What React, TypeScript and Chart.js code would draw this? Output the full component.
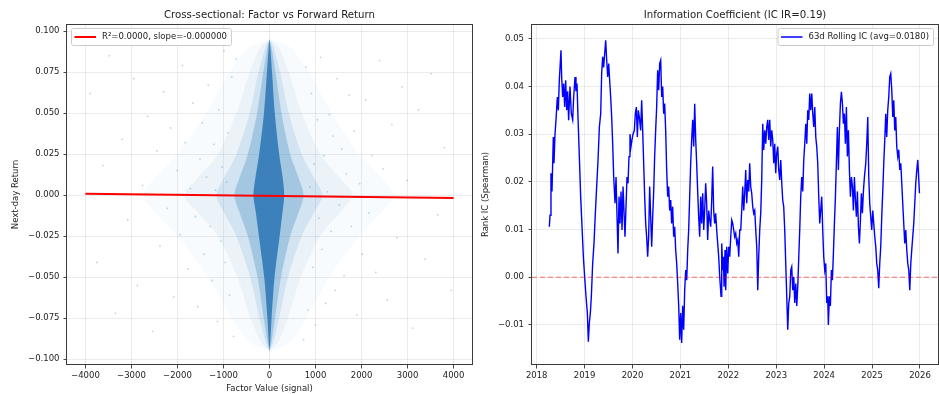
import React, { useEffect, useRef } from "react";
import { Chart, registerables } from "chart.js";

Chart.register(...registerables);

const FONT = "'DejaVu Sans', 'Liberation Sans', sans-serif";
const TXT = "#222222";

// ---------------- Left panel: cross-sectional scatter ----------------
const leftTitle = "Cross-sectional: Factor vs Forward Return";
const leftXLabel = "Factor Value (signal)";
const leftYLabel = "Next-day Return";
const leftLegend = "R\u00b2=0.0000, slope=-0.000000";
const leftXTicks = [-4000, -3000, -2000, -1000, 0, 1000, 2000, 3000, 4000];
const leftYTicks = [-0.1, -0.075, -0.05, -0.025, 0, 0.025, 0.05, 0.075, 0.1];

// regression line end points
const regX = [-4000, 4000];
const regY = [0.0008, -0.0018];

// density envelope of the point cloud (half-widths in factor units), read at these return levels
const cloudLevels = [0.095, 0.09, 0.075, 0.05, 0.025, 0.01, 0, -0.01, -0.025, -0.05, -0.075, -0.09, -0.095];
const coreRight = [0, 18, 55, 115, 210, 290, 320, 285, 220, 110, 45, 15, 0];
const coreLeft = [0, -18, -55, -120, -225, -310, -350, -300, -230, -115, -45, -15, 0];
const denseRight = [0, 45, 130, 260, 450, 640, 740, 640, 450, 250, 120, 40, 0];
const denseLeft = [0, -45, -135, -270, -470, -660, -760, -660, -470, -260, -125, -40, 0];
const haloRight = [0, 90, 230, 420, 700, 980, 1150, 980, 700, 400, 210, 80, 0];
const haloLeft = [0, -90, -240, -430, -720, -1000, -1150, -1000, -720, -420, -220, -80, 0];
const faintRight = [0, 200, 420, 700, 1100, 1550, 1800, 1550, 1100, 680, 400, 180, 0];
const faintLeft = [0, -200, -430, -720, -1120, -1580, -1850, -1580, -1120, -700, -410, -180, 0];
const sparseRight = [0, 450, 850, 1350, 1950, 2450, 2700, 2450, 1950, 1300, 800, 420, 0];
const sparseLeft = [0, -450, -860, -1380, -2000, -2500, -2750, -2500, -2000, -1330, -820, -420, 0];

// sparse outlying points
const outlierPoints: [number, number][] = [
  [-3900, 0.062], [-3750, -0.041], [-3620, 0.018], [-3480, 0.085], [-3350, -0.072], [-3200, 0.034],
  [-3080, -0.015], [-2950, 0.071], [-2870, -0.055], [-2760, 0.006], [-2650, 0.048], [-2540, -0.083],
  [-2450, 0.027], [-2380, -0.031], [-2300, 0.063], [-2220, -0.008], [-2150, 0.041], [-2080, -0.062],
  [-2010, 0.015], [-1950, -0.024], [-1890, 0.079], [-1830, 0.032], [-1770, -0.045], [-1720, 0.004],
  [-1660, 0.056], [-1610, -0.013], [-1560, -0.068], [-1510, 0.022], [-1460, 0.044], [-1420, -0.036],
  [-1370, 0.011], [-1330, 0.067], [-1290, -0.019], [-1250, -0.052], [-1210, 0.031], [-1170, 0.003],
  [-1130, -0.077], [-1100, 0.052], [-1060, -0.028], [-1030, 0.017], [-990, 0.088], [-960, -0.041],
  [-930, 0.008], [-900, 0.038], [-870, -0.061], [-820, 0.072], [-780, -0.086], [-720, 0.083],
  [3950, -0.058], [3800, 0.029], [3660, -0.012], [3510, 0.074], [3380, -0.039], [3240, 0.052],
  [3110, -0.081], [2990, 0.009], [2880, 0.066], [2770, -0.026], [2660, 0.043], [2560, -0.064],
  [2470, 0.016], [2390, 0.082], [2310, -0.047], [2230, 0.024], [2160, -0.011], [2090, 0.058],
  [2020, -0.036], [1960, 0.007], [1900, -0.073], [1840, 0.039], [1780, -0.019], [1730, 0.061],
  [1670, 0.013], [1620, -0.049], [1570, 0.028], [1520, -0.006], [1470, 0.071], [1430, -0.058],
  [1380, 0.036], [1340, -0.022], [1300, 0.049], [1260, 0.002], [1220, -0.066], [1180, 0.024],
  [1140, -0.033], [1110, 0.084], [1070, -0.014], [1040, 0.046], [1000, -0.079], [970, 0.019],
  [940, -0.044], [910, 0.062], [880, 0.005], [830, -0.07], [790, 0.078], [740, -0.088],
];

// ---------------- Right panel: rolling IC ----------------
const rightTitle = "Information Coefficient (IC IR=0.19)";
const rightYLabel = "Rank IC (Spearman)";
const rightLegend = "63d Rolling IC (avg=0.0180)";
const rightXTicks = [2018, 2019, 2020, 2021, 2022, 2023, 2024, 2025, 2026];
const rightYTicks = [-0.01, 0, 0.01, 0.02, 0.03, 0.04, 0.05];

const icDates = [
  2018.264, 2018.278, 2018.298, 2018.319, 2018.347, 2018.361, 2018.382, 2018.403, 2018.431, 2018.452,
  2018.472, 2018.507, 2018.521, 2018.542, 2018.563, 2018.584, 2018.605, 2018.626, 2018.646, 2018.667,
  2018.695, 2018.723, 2018.751, 2018.772, 2018.800, 2018.820, 2018.841, 2018.862, 2018.890, 2018.918,
  2018.946, 2018.974, 2019.001, 2019.029, 2019.057, 2019.078, 2019.099, 2019.120, 2019.141, 2019.168,
  2019.196, 2019.224, 2019.252, 2019.280, 2019.308, 2019.336, 2019.356, 2019.377, 2019.398, 2019.419,
  2019.440, 2019.461, 2019.482, 2019.503, 2019.523, 2019.544, 2019.565, 2019.586, 2019.607, 2019.635,
  2019.656, 2019.677, 2019.697, 2019.718, 2019.739, 2019.760, 2019.781, 2019.802, 2019.843, 2019.864,
  2019.885, 2019.906, 2019.927, 2019.947, 2019.968, 2019.989, 2020.010, 2020.038, 2020.059, 2020.080,
  2020.101, 2020.121, 2020.142, 2020.170, 2020.191, 2020.212, 2020.233, 2020.254, 2020.275, 2020.295,
  2020.316, 2020.337, 2020.358, 2020.379, 2020.400, 2020.421, 2020.442, 2020.462, 2020.483, 2020.504,
  2020.525, 2020.546, 2020.567, 2020.588, 2020.609, 2020.630, 2020.650, 2020.671, 2020.692, 2020.713,
  2020.734, 2020.755, 2020.776, 2020.797, 2020.817, 2020.838, 2020.859, 2020.880, 2020.901, 2020.922,
  2020.943, 2020.964, 2020.984, 2021.005, 2021.026, 2021.047, 2021.068, 2021.089, 2021.110, 2021.131,
  2021.152, 2021.172, 2021.193, 2021.214, 2021.235, 2021.256, 2021.277, 2021.298, 2021.319, 2021.339,
  2021.360, 2021.381, 2021.402, 2021.423, 2021.444, 2021.465, 2021.486, 2021.506, 2021.527, 2021.548,
  2021.569, 2021.590, 2021.611, 2021.632, 2021.653, 2021.673, 2021.694, 2021.715, 2021.736, 2021.757,
  2021.778, 2021.799, 2021.820, 2021.848, 2021.862, 2021.883, 2021.897, 2021.911, 2021.931, 2021.945,
  2021.966, 2021.987, 2022.008, 2022.029, 2022.050, 2022.071, 2022.091, 2022.112, 2022.133, 2022.154,
  2022.175, 2022.196, 2022.217, 2022.238, 2022.259, 2022.279, 2022.300, 2022.321, 2022.342, 2022.363,
  2022.384, 2022.405, 2022.426, 2022.446, 2022.467, 2022.488, 2022.509, 2022.530, 2022.551, 2022.572,
  2022.593, 2022.614, 2022.634, 2022.655, 2022.676, 2022.697, 2022.718, 2022.739, 2022.760, 2022.781,
  2022.801, 2022.822, 2022.843, 2022.864, 2022.885, 2022.906, 2022.927, 2022.948, 2022.968, 2022.989,
  2023.010, 2023.031, 2023.052, 2023.073, 2023.094, 2023.115, 2023.135, 2023.156, 2023.177, 2023.198,
  2023.219, 2023.240, 2023.261, 2023.282, 2023.303, 2023.323, 2023.344, 2023.365, 2023.386, 2023.407,
  2023.428, 2023.449, 2023.470, 2023.490, 2023.511, 2023.532, 2023.553, 2023.574, 2023.595, 2023.616,
  2023.637, 2023.657, 2023.678, 2023.699, 2023.720, 2023.741, 2023.762, 2023.783, 2023.804, 2023.825,
  2023.845, 2023.866, 2023.887, 2023.908, 2023.949, 2023.970, 2023.991, 2024.012, 2024.033, 2024.054,
  2024.074, 2024.088, 2024.109, 2024.130, 2024.151, 2024.172, 2024.193, 2024.214, 2024.235, 2024.255,
  2024.276, 2024.297, 2024.318, 2024.339, 2024.360, 2024.381, 2024.402, 2024.422, 2024.443, 2024.464,
  2024.485, 2024.506, 2024.527, 2024.548, 2024.569, 2024.590, 2024.610, 2024.631, 2024.652, 2024.673,
  2024.694, 2024.715, 2024.736, 2024.757, 2024.777, 2024.798, 2024.819, 2024.840, 2024.868, 2024.889,
  2024.910, 2024.931, 2024.951, 2024.972, 2024.993, 2025.014, 2025.035, 2025.056, 2025.077, 2025.098,
  2025.118, 2025.139, 2025.160, 2025.181, 2025.202, 2025.223, 2025.244, 2025.265, 2025.286, 2025.306,
  2025.327, 2025.348, 2025.369, 2025.390, 2025.411, 2025.432, 2025.453, 2025.473, 2025.494, 2025.515,
  2025.536, 2025.557, 2025.578, 2025.599, 2025.620, 2025.640, 2025.661, 2025.682, 2025.703, 2025.724,
  2025.745, 2025.766, 2025.787, 2025.808, 2025.828, 2025.849, 2025.870, 2025.891, 2025.912, 2025.933,
  2025.954, 2025.975, 2025.989,
];

const icValues = [
  0.0106, 0.0130, 0.0218, 0.0180, 0.0294, 0.0239, 0.0300, 0.0330, 0.0378, 0.0350,
  0.0413, 0.0476, 0.0420, 0.0378, 0.0406, 0.0357, 0.0413, 0.0350, 0.0390, 0.0329,
  0.0400, 0.0343, 0.0330, 0.0378, 0.0420, 0.0390, 0.0406, 0.0336, 0.0253, 0.0169,
  0.0106, 0.0043, 0.0001, -0.0040, -0.0075, -0.0135, -0.0096, -0.0075, -0.0040, 0.0029,
  0.0071, 0.0134, 0.0190, 0.0246, 0.0315, 0.0343, 0.0427, 0.0462, 0.0440, 0.0469,
  0.0497, 0.0455, 0.0420, 0.0448, 0.0413, 0.0378, 0.0336, 0.0280, 0.0211, 0.0155,
  0.0210, 0.0127, 0.0050, 0.0169, 0.0113, 0.0180, 0.0099, 0.0190, 0.0085, 0.0148,
  0.0210, 0.0197, 0.0253, 0.0300, 0.0274, 0.0288, 0.0300, 0.0308, 0.0343, 0.0357,
  0.0294, 0.0350, 0.0336, 0.0308, 0.0371, 0.0308, 0.0239, 0.0169, 0.0113, 0.0085,
  0.0043, 0.0085, 0.0190, 0.0127, 0.0064, 0.0127, 0.0180, 0.0253, 0.0308, 0.0357,
  0.0434, 0.0392, 0.0448, 0.0455, 0.0378, 0.0400, 0.0343, 0.0364, 0.0308, 0.0225,
  0.0169, 0.0190, 0.0140, 0.0162, 0.0113, 0.0148, 0.0085, 0.0106, 0.0057, 0.0029,
  -0.0013, -0.0060, -0.0131, -0.0075, -0.0138, -0.0060, -0.0110, -0.0027, 0.0015, -0.0006,
  0.0057, 0.0099, 0.0169, 0.0239, 0.0288, 0.0330, 0.0274, 0.0364, 0.0288, 0.0239,
  0.0180, 0.0127, 0.0085, 0.0169, 0.0113, 0.0176, 0.0099, 0.0140, 0.0197, 0.0155,
  0.0078, 0.0140, 0.0120, 0.0106, 0.0162, 0.0232, 0.0140, 0.0113, 0.0134, 0.0099,
  0.0071, 0.0043, 0.0001, -0.0040, 0.0071, 0.0015, 0.0043, -0.0020, 0.0057, -0.0027,
  0.0064, 0.0008, 0.0064, 0.0043, 0.0085, 0.0120, 0.0113, 0.0099, 0.0085, 0.0092,
  0.0071, 0.0078, 0.0043, 0.0099, 0.0099, 0.0140, 0.0190, 0.0140, 0.0176, 0.0225,
  0.0155, 0.0204, 0.0180, 0.0239, 0.0190, 0.0176, 0.0148, 0.0134, 0.0140, 0.0099,
  0.0064, -0.0027, 0.0043, 0.0099, 0.0134, 0.0204, 0.0322, 0.0267, 0.0308, 0.0280,
  0.0315, 0.0330, 0.0288, 0.0330, 0.0274, 0.0308, 0.0288, 0.0239, 0.0280, 0.0218,
  0.0260, 0.0274, 0.0225, 0.0204, 0.0246, 0.0197, 0.0162, 0.0148, 0.0099, 0.0029,
  -0.0040, -0.0110, -0.0054, -0.0040, 0.0015, 0.0022, -0.0027, 0.0001, -0.0054, -0.0013,
  -0.0060, -0.0020, 0.0043, 0.0099, 0.0169, 0.0210, 0.0180, 0.0246, 0.0280, 0.0322,
  0.0280, 0.0350, 0.0330, 0.0385, 0.0350, 0.0385, 0.0343, 0.0315, 0.0357, 0.0294,
  0.0274, 0.0239, 0.0169, 0.0113, 0.0169, 0.0099, 0.0043, 0.0015, 0.0029, -0.0054,
  -0.0040, -0.0100, -0.0040, -0.0060, 0.0015, -0.0006, 0.0050, 0.0113, 0.0169, 0.0239,
  0.0315, 0.0225, 0.0308, 0.0364, 0.0389, 0.0364, 0.0322, 0.0343, 0.0280, 0.0357,
  0.0253, 0.0308, 0.0225, 0.0169, 0.0210, 0.0190, 0.0140, 0.0210, 0.0162, 0.0127,
  0.0180, 0.0106, 0.0071, 0.0120, 0.0176, 0.0134, 0.0180, 0.0210, 0.0239, 0.0280,
  0.0336, 0.0210, 0.0155, 0.0127, 0.0099, 0.0140, 0.0113, 0.0085, 0.0064, 0.0029,
  0.0015, -0.0023, 0.0029, 0.0064, 0.0127, 0.0180, 0.0239, 0.0288, 0.0343, 0.0294,
  0.0350, 0.0378, 0.0420, 0.0427, 0.0392, 0.0336, 0.0371, 0.0308, 0.0336, 0.0274,
  0.0253, 0.0267, 0.0225, 0.0239, 0.0197, 0.0155, 0.0113, 0.0071, 0.0099, 0.0057,
  0.0029, 0.0015, -0.0027, 0.0029, 0.0057, 0.0085, 0.0113, 0.0155, 0.0197, 0.0225,
  0.0246, 0.0204, 0.0176,
];

// ---------------- helpers ----------------
const minus = (s: string) => s.replace("-", "\u2212");

function envelope(right: number[], left: number[]) {
  const pts: { x: number; y: number }[] = [];
  for (let i = 0; i < cloudLevels.length; i++) pts.push({ x: right[i], y: cloudLevels[i] });
  for (let i = cloudLevels.length - 1; i >= 0; i--) pts.push({ x: left[i], y: cloudLevels[i] });
  return pts;
}

function shapeDataset(right: number[], left: number[], color: string, order: number) {
  return {
    data: envelope(right, left),
    showLine: true,
    fill: "shape",
    backgroundColor: color,
    borderColor: "rgba(0,0,0,0)",
    borderWidth: 0,
    pointRadius: 0,
    tension: 0.3,
    order,
  };
}

const fixTicks = (values: number[]) => (scale: any) => {
  scale.ticks = values.map((v) => ({ value: v }));
};

type LegendSpec = { text: string; color: string; width: number; side: "left" | "right" };

function decorPlugin(title: string, legend: LegendSpec) {
  return {
    id: "decor",
    afterDraw(chart: any) {
      const ctx: CanvasRenderingContext2D = chart.ctx;
      const a = chart.chartArea;
      ctx.save();
      // frame
      ctx.strokeStyle = "#3a3a3a";
      ctx.lineWidth = 1;
      ctx.strokeRect(Math.round(a.left) - 0.5, Math.round(a.top) + 0.5, Math.round(a.right - a.left) + 1, Math.round(a.bottom - a.top) - 1);
      // title
      ctx.fillStyle = TXT;
      ctx.font = `10.2px ${FONT}`;
      ctx.textAlign = "center";
      ctx.textBaseline = "middle";
      ctx.fillText(title, (a.left + a.right) / 2, 15);
      // legend
      ctx.font = `8.5px ${FONT}`;
      const tw = ctx.measureText(legend.text).width;
      const w = 31 + tw + 4;
      const h = 17;
      const bx = legend.side === "left" ? a.left + 4 : a.right - 5 - w;
      const by = a.top + 4;
      ctx.beginPath();
      (ctx as any).roundRect(bx + 0.5, by + 0.5, w, h, 2);
      ctx.fillStyle = "rgba(255,255,255,0.85)";
      ctx.fill();
      ctx.strokeStyle = "#cccccc";
      ctx.lineWidth = 1;
      ctx.stroke();
      const cy = by + h / 2 + 0.5;
      ctx.beginPath();
      ctx.moveTo(bx + 3.5, cy);
      ctx.lineTo(bx + 25, cy);
      ctx.strokeStyle = legend.color;
      ctx.lineWidth = legend.width;
      ctx.stroke();
      ctx.fillStyle = TXT;
      ctx.textAlign = "left";
      ctx.fillText(legend.text, bx + 31, cy);
      ctx.restore();
    },
  };
}

const tickFont = { family: FONT, size: 8.5 };
const gridCfg = {
  color: "rgba(176,176,176,0.32)",
  lineWidth: 0.8,
  tickColor: "#333333",
  tickLength: 3.5,
  tickWidth: 0.9,
  drawTicks: true,
};

export default function App() {
  const leftRef = useRef<HTMLCanvasElement>(null);
  const rightRef = useRef<HTMLCanvasElement>(null);

  useEffect(() => {
    const left = new Chart(leftRef.current!, {
      type: "line",
      data: {
        datasets: [
          {
            data: regX.map((x, i) => ({ x, y: regY[i] })),
            borderColor: "#ff0000",
            borderWidth: 2,
            pointRadius: 0,
            order: 0,
          } as any,
          shapeDataset(coreRight, coreLeft, "rgba(52,124,184,0.92)", 1),
          shapeDataset(denseRight, denseLeft, "rgba(31,119,180,0.26)", 2),
          shapeDataset(haloRight, haloLeft, "rgba(31,119,180,0.12)", 3),
          shapeDataset(faintRight, faintLeft, "rgba(31,119,180,0.06)", 4),
          shapeDataset(sparseRight, sparseLeft, "rgba(31,119,180,0.03)", 5),
          {
            data: outlierPoints.map(([x, y]) => ({ x, y })),
            showLine: false,
            pointRadius: 0.9,
            pointBorderWidth: 0,
            pointBackgroundColor: "rgba(31,119,180,0.3)",
            order: 6,
          } as any,
        ],
      },
      options: {
        animation: false,
        responsive: false,
        events: [],
        layout: { padding: { top: 24, right: 2, left: 0, bottom: 0 } },
        plugins: { legend: { display: false }, tooltip: { enabled: false }, title: { display: false } },
        scales: {
          x: {
            type: "linear",
            min: -4400,
            max: 4400,
            afterFit: (s: any) => { s.height = 29; },
            afterBuildTicks: fixTicks(leftXTicks),
            ticks: {
              font: tickFont,
              color: TXT,
              padding: 2.5,
              maxRotation: 0,
              autoSkip: false,
              callback: (v: any) => minus(String(Math.round(Number(v)))),
            },
            grid: gridCfg,
            border: { display: false },
            title: { display: true, text: leftXLabel, font: tickFont, color: TXT, padding: { top: 0, bottom: 0.5 } },
          },
          y: {
            type: "linear",
            min: -0.1035,
            max: 0.1043,
            afterFit: (s: any) => { s.width = 67; },
            afterBuildTicks: fixTicks(leftYTicks),
            ticks: {
              font: tickFont,
              color: TXT,
              padding: 4,
              autoSkip: false,
              callback: (v: any) => minus(Number(v).toFixed(3)),
            },
            grid: gridCfg,
            border: { display: false },
            title: { display: true, text: leftYLabel, font: tickFont, color: TXT, padding: { top: 10.6, bottom: 0 } },
          },
        },
      } as any,
      plugins: [decorPlugin(leftTitle, { text: leftLegend, color: "#ff0000", width: 2, side: "left" })],
    });

    const right = new Chart(rightRef.current!, {
      type: "line",
      data: {
        datasets: [
          {
            data: [{ x: 2017.902, y: 0 }, { x: 2026.376, y: 0 }],
            borderColor: "rgba(255,0,0,0.55)",
            borderWidth: 1,
            borderDash: [5, 3],
            pointRadius: 0,
            order: 0,
          } as any,
          {
            data: icDates.map((x, i) => ({ x, y: icValues[i] })),
            borderColor: "#0000ff",
            borderWidth: 1.4,
            pointRadius: 0,
            tension: 0,
            order: 1,
          } as any,
        ],
      },
      options: {
        animation: false,
        responsive: false,
        events: [],
        layout: { padding: { top: 24, right: 1, left: 0, bottom: 0 } },
        plugins: { legend: { display: false }, tooltip: { enabled: false }, title: { display: false } },
        scales: {
          x: {
            type: "linear",
            min: 2017.902,
            max: 2026.376,
            afterFit: (s: any) => { s.height = 29; },
            afterBuildTicks: fixTicks(rightXTicks),
            ticks: {
              font: tickFont,
              color: TXT,
              padding: 2.5,
              maxRotation: 0,
              autoSkip: false,
              callback: (v: any) => String(Math.round(Number(v))),
            },
            grid: gridCfg,
            border: { display: false },
          },
          y: {
            type: "linear",
            min: -0.0184,
            max: 0.0531,
            afterFit: (s: any) => { s.width = 56; },
            afterBuildTicks: fixTicks(rightYTicks),
            ticks: {
              font: tickFont,
              color: TXT,
              padding: 4.5,
              autoSkip: false,
              callback: (v: any) => minus(Number(v).toFixed(2)),
            },
            grid: gridCfg,
            border: { display: false },
            title: { display: true, text: rightYLabel, font: tickFont, color: TXT, padding: { top: 4.6, bottom: 0 } },
          },
        },
      } as any,
      plugins: [decorPlugin(rightTitle, { text: rightLegend, color: "#0000ff", width: 1.5, side: "right" })],
    });

    return () => {
      left.destroy();
      right.destroy();
    };
  }, []);

  return (
    <div style={{ position: "fixed", left: 0, top: 0, width: 939, height: 394, background: "#ffffff" }}>
      <canvas ref={leftRef} width={476} height={394} style={{ position: "absolute", left: 0, top: 0, width: 476, height: 394 }} />
      <canvas ref={rightRef} width={463} height={394} style={{ position: "absolute", left: 476, top: 0, width: 463, height: 394 }} />
    </div>
  );
}
